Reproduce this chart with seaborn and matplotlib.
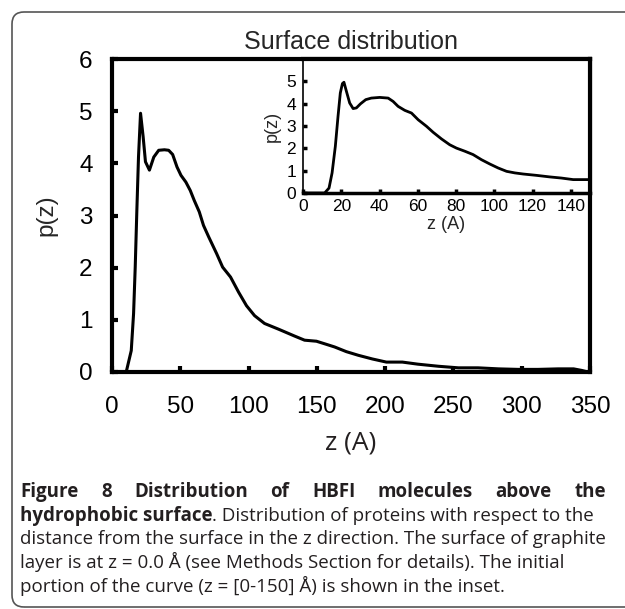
import matplotlib
matplotlib.use('Agg')
import matplotlib.pyplot as plt
from matplotlib.patches import FancyBboxPatch
import seaborn as sns

W, H = 625, 609

# main panel curve
z_main = [0, 10.4, 14.1, 15.8, 17.0, 18.2, 19.4, 20.9, 22.8, 24.5,
          27.4, 30.6, 34.2, 38.4, 41.5, 44.4, 47.6, 50.5, 54.1, 57.3,
          60.2, 63.9, 67.0, 70.8, 76.6, 81.0, 86.8, 92.7, 98.5, 104.4,
          111.7, 122.0, 133.6, 141.0, 149.7, 157.0, 163.0, 171.6, 180.4, 190.6,
          200.9, 212.6, 224.0, 239.0, 253.6, 268.0, 283.0, 297.5, 312.0, 326.6,
          338.0, 344.0, 347.0]
p_main = [0, 0, 0.41, 1.12, 2.01, 3.10, 4.12, 4.96, 4.51, 4.03,
          3.87, 4.12, 4.25, 4.26, 4.25, 4.17, 3.93, 3.77, 3.64, 3.48,
          3.29, 3.07, 2.81, 2.59, 2.27, 2.01, 1.82, 1.53, 1.27, 1.08,
          0.93, 0.82, 0.69, 0.61, 0.59, 0.53, 0.48, 0.39, 0.32, 0.25,
          0.19, 0.19, 0.15, 0.11, 0.08, 0.08, 0.06, 0.05, 0.05, 0.06,
          0.06, 0.03, 0.01]

# inset curve (z = 0-150)
z_inset = [0, 11.3, 13.6, 15.2, 16.9, 18.3, 19.5, 20.6, 21.4, 22.7,
           24.4, 26.2, 27.9, 30.0, 32.8, 35.7, 40.1, 44.5, 47.1, 49.7,
           53.2, 56.7, 60.2, 64.5, 68.0, 72.4, 76.7, 80.2, 84.6, 88.9,
           93.3, 97.6, 102.0, 106.4, 110.7, 115.1, 122.0, 129.0, 135.0, 141.2,
           150.0]
p_inset = [0, 0, 0.22, 0.90, 2.09, 3.43, 4.48, 4.90, 4.96, 4.55,
           4.03, 3.78, 3.81, 3.99, 4.18, 4.25, 4.28, 4.25, 4.10, 3.88,
           3.70, 3.58, 3.28, 2.99, 2.72, 2.42, 2.16, 2.01, 1.87, 1.72,
           1.49, 1.30, 1.12, 0.97, 0.90, 0.85, 0.79, 0.72, 0.67, 0.60,
           0.60]

main_xticks = [0, 50, 100, 150, 200, 250, 300, 350]
main_yticks = [0, 1, 2, 3, 4, 5, 6]
inset_xticks = [0, 20, 40, 60, 80, 100, 120, 140]
inset_yticks = [0, 1, 2, 3, 4, 5]

caption_line1 = "Figure 8 Distribution of HBFI molecules above the"
caption_bold2 = "hydrophobic surface"
caption_rest2 = ". Distribution of proteins with respect to the"
caption_lines = [
    "distance from the surface in the z direction. The surface of graphite",
    "layer is at z = 0.0 Å (see Methods Section for details). The initial",
    "portion of the curve (z = [0-150] Å) is shown in the inset.",
]

sns.set_theme(style="white")
plt.rcParams['font.family'] = ['Liberation Sans', 'DejaVu Sans']
plt.rcParams['axes.edgecolor'] = 'black'


def px_rect(left, top, right, bottom):
    return [left / W, 1 - bottom / H, (right - left) / W, (bottom - top) / H]


fig = plt.figure(figsize=(W / 100, H / 100), dpi=100)

# main panel
ax = fig.add_axes(px_rect(112, 59, 590, 372))
sns.lineplot(x=z_main, y=p_main, ax=ax, color='black', lw=2.2)
ax.set_xlim(0, 350)
ax.set_ylim(0, 6)
ax.set_xticks(main_xticks)
ax.set_yticks(main_yticks)
ax.tick_params(axis='both', direction='in', length=4, width=3, labelsize=17.5,
               colors='black', bottom=True, left=True, top=False, right=False)
ax.tick_params(axis='x', pad=17)
ax.tick_params(axis='y', pad=14)
for s in ax.spines.values():
    s.set_linewidth(3)
    s.set_color('black')
ax.set_xlabel('')
ax.set_ylabel('')

fig.text(46, H - 215, 'p(z)', transform=None, rotation=90, fontsize=17.5,
         ha='center', va='center')
fig.text(351, H - 42, 'Surface distribution', transform=None, fontsize=18,
         ha='center', va='center')
fig.text(351, H - 443, 'z (A)', transform=None, fontsize=19,
         family=['Open Sans', 'DejaVu Sans'], color='#231f20',
         ha='center', va='center')

# inset
ins = fig.add_axes(px_rect(303, 59, 590, 193))
ins.set_facecolor('white')
sns.lineplot(x=z_inset, y=p_inset, ax=ins, color='black', lw=2.0)
ins.set_xlim(0, 150)
ins.set_ylim(0, 6)
ins.set_xticks(inset_xticks)
ins.set_yticks(inset_yticks)
ins.tick_params(axis='both', direction='in', length=3, width=2.5, labelsize=12.5,
                colors='black', bottom=True, left=True, top=False, right=False)
ins.tick_params(axis='x', pad=4)
ins.tick_params(axis='y', pad=5)
ins.spines['left'].set_linewidth(1.2)
ins.spines['bottom'].set_linewidth(2.5)
ins.spines['top'].set_linewidth(3)
ins.spines['right'].set_linewidth(3)
ins.set_xlabel('z (A)', fontsize=13, labelpad=2)
ins.set_ylabel('p(z)', fontsize=13, labelpad=4)

# rounded frame around figure + caption
frame = FancyBboxPatch((12, 2), 700, H - 14, boxstyle="round,pad=0,rounding_size=12",
                       transform=None, fill=False, edgecolor='#555555', lw=1.2)
fig.add_artist(frame)

# caption
cap_font = ['Open Sans', 'DejaVu Sans']
cap_color = '#231f20'
cap_size = 13.5
x_left, x_right = 20, 606
base = [497, 520.75, 544.5, 568.25, 592]
renderer = fig.canvas.get_renderer()

# first line is justified
words = caption_line1.split()
arts = [fig.text(0, H - base[0], w_, transform=None, fontsize=cap_size,
                 family=cap_font, weight='bold', color=cap_color, va='baseline')
        for w_ in words]
widths = [a.get_window_extent(renderer).width for a in arts]
gap = (x_right - x_left - sum(widths)) / (len(words) - 1)
x = x_left
for a, wd in zip(arts, widths):
    a.set_x(x)
    x += wd + gap

# second line: bold start then normal
b = fig.text(x_left, H - base[1], caption_bold2, transform=None, fontsize=cap_size,
             family=cap_font, weight='bold', color=cap_color, va='baseline')
bw = b.get_window_extent(renderer).width
fig.text(x_left + bw, H - base[1], caption_rest2, transform=None, fontsize=cap_size,
         family=cap_font, color=cap_color, va='baseline')

for i, line in enumerate(caption_lines):
    fig.text(x_left, H - base[i + 2], line, transform=None, fontsize=cap_size,
             family=cap_font, color=cap_color, va='baseline')

fig.savefig('out.png', dpi=100)
